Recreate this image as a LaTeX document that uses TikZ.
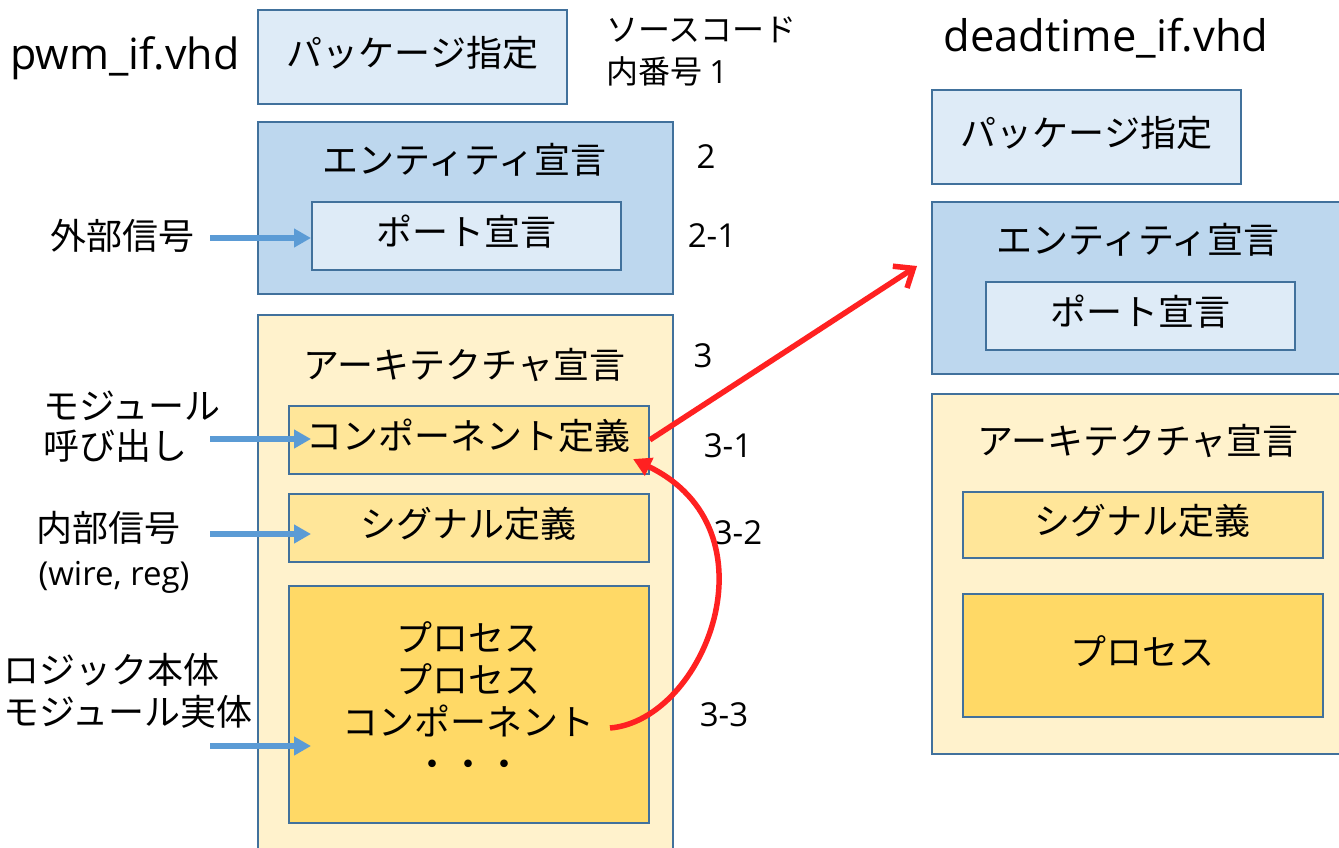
\documentclass[tikz,border=0pt]{standalone}
\usepackage{fontspec}
\setmainfont{Noto Sans CJK JP}
\newfontfamily\lat{Open Sans}
\usetikzlibrary{arrows.meta,calc}
\definecolor{edge}{HTML}{41719C}
\definecolor{pkgfill}{HTML}{DEEBF7}
\definecolor{entfill}{HTML}{BDD7EE}
\definecolor{archfill}{HTML}{FFF2CC}
\definecolor{deffill}{HTML}{FFE699}
\definecolor{procfill}{HTML}{FFD966}
\definecolor{bluearrow}{HTML}{5B9BD5}
\definecolor{redarrow}{HTML}{FF2121}
\tikzset{
  box/.style={draw=edge, line width=1.8pt, anchor=north west, inner sep=0pt,
    font=\fontsize{36}{42}\selectfont},
  onebox/.style={box, text height=31pt, text depth=11pt},
  pkgbox/.style={onebox, fill=pkgfill},
  entbox/.style={box, fill=entfill},
  archbox/.style={box, fill=archfill},
  defbox/.style={onebox, fill=deffill},
  procbox/.style={onebox, fill=procfill},
  jtxt/.style={inner sep=0pt, font=\fontsize{36}{42}\selectfont},
  ltxt/.style={inner sep=0pt, font=\lat\fontsize{33}{40}\selectfont},
  barrow/.style={draw=bluearrow, line width=6pt, -{Triangle[length=17pt,width=18pt]}},
  rline/.style={draw=redarrow, line width=5.5pt},
}
\begin{document}
\begin{tikzpicture}[x=1pt,y=-1pt]
\fill[white] (0,0) rectangle (1339,847);
\useasboundingbox (0,0) rectangle (1339,847);
\clip (0,0) rectangle (1339,847);

% ---------- left file ----------
\node[inner sep=0pt, font=\lat\fontsize{43}{48}\selectfont] (lname) at (125,58) {pwm\_if.vhd};
\node[pkgbox, minimum width=309, minimum height=94] (lpkg) at (257,9) {パッケージ指定};
\node[inner sep=0pt, anchor=west, align=left, font=\fontsize{32}{42}\selectfont] (note) at (606,51) {ソースコード\\内番号 {\lat 1}};

\node[entbox, minimum width=415, minimum height=172] (lent) at (257,121) {};
\node[jtxt] (lenttitle) at (464.5,160) {エンティティ宣言};
\node[pkgbox, minimum width=309, minimum height=68] (lport) at (311,201) {ポート宣言};
\node[ltxt] (n2) at (706,157) {2};
\node[ltxt] (n21) at (712,236) {2-1};
\node[jtxt] (lext) at (122,236) {外部信号};

\node[archbox, minimum width=415, minimum height=560] (larch) at (257,314) {};
\node[jtxt] (larchtitle) at (464.5,365) {アーキテクチャ宣言};
\node[ltxt] (n3) at (703,356) {3};
\node[defbox, minimum width=360, minimum height=68] (lcomp) at (288,405) {コンポーネント定義};
\node[defbox, minimum width=360, minimum height=68] (lsig) at (288,493) {シグナル定義};
\node[box, fill=procfill, minimum width=360, minimum height=237] (lproc) at (288,585) {};
\node[jtxt, align=center] (lproctext) at (468,699.5) {プロセス\\プロセス\\コンポーネント\\・・・};
\node[ltxt] (n31) at (728,446) {3-1};
\node[ltxt] (n32) at (738,533) {3-2};
\node[ltxt] (n33) at (724,715) {3-3};

\node[jtxt, anchor=west, align=left, font=\fontsize{36}{40}\selectfont] (lmod) at (43,427) {モジュール\\呼び出し};
\node[jtxt] (lint) at (108,528) {内部信号};
\node[inner sep=0pt, font=\lat\fontsize{33}{38}\selectfont] (lwr) at (114,577) {(wire, reg)};
\node[jtxt, anchor=west, align=left, font=\fontsize{36}{42}\selectfont] (llog) at (3,691) {ロジック本体\\モジュール実体};

% ---------- right file ----------
\node[inner sep=0pt, font=\lat\fontsize{43.5}{48}\selectfont] (rname) at (1106,38) {deadtime\_if.vhd};
\node[pkgbox, minimum width=309, minimum height=94] (rpkg) at (931,89) {パッケージ指定};
\node[entbox, minimum width=420, minimum height=172] (rent) at (931,201) {};
\node[jtxt] (renttitle) at (1138,240) {エンティティ宣言};
\node[pkgbox, minimum width=309, minimum height=68] (rport) at (985,281) {ポート宣言};
\node[archbox, minimum width=420, minimum height=360] (rarch) at (931,393) {};
\node[jtxt] (rarchtitle) at (1138,441) {アーキテクチャ宣言};
\node[defbox, minimum width=360, minimum height=66] (rsig) at (962,491) {シグナル定義};
\node[procbox, minimum width=360, minimum height=123] (rproc) at (962,593) {プロセス};

% ---------- blue arrows ----------
\coordinate (b1s) at (210,238);
\coordinate (b2s) at (210,439);
\coordinate (b2e) at (311,439);
\coordinate (b3s) at (210,534);
\coordinate (b3e) at (311,534);
\coordinate (b4s) at (210,746);
\coordinate (b4e) at (311,746);
\draw[barrow] (b1s) -- (lport.west |- b1s);
\draw[barrow] (b2s) -- (b2e);
\draw[barrow] (b3s) -- (b3e);
\draw[barrow] (b4s) -- (b4e);

% ---------- red arrows ----------
\coordinate (rtip) at (917,266);
\draw[rline, -{Straight Barb[length=16pt,width=26pt]}] (lcomp.east) -- (rtip);
\coordinate (cs) at (610,728);
\coordinate (ce) at (633,459);
\draw[rline, -{Triangle[length=18pt,width=19pt]}] (cs) .. controls (705,720) and (780,530) .. (ce);
\end{tikzpicture}
\end{document}
